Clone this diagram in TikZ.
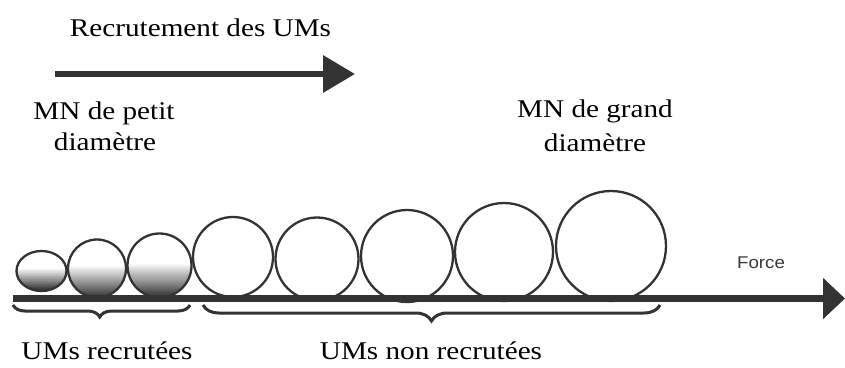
\documentclass[tikz,border=0pt]{standalone}
\usepackage{fontspec}
\setmainfont{Liberation Serif}
\newfontfamily\forcefont{Liberation Sans}
\usetikzlibrary{arrows.meta,shapes.geometric,decorations.pathreplacing,calc}
\definecolor{ink}{HTML}{333333}
\tikzset{
  lbl/.style={anchor=base, inner sep=0pt, xscale=1.145, font=\fontsize{25.5}{30}\selectfont},
  um/.style={circle, draw=ink, line width=2.3pt, inner sep=0pt, minimum size=#1},
  axis/.style={draw=ink, line width=6.5pt},
  bracestyle/.style={draw=ink, line width=3pt, decorate,
      decoration={brace, mirror, amplitude=#1}},
}
% shade lower part of an ellipse: #1 x, #2 y (centre), #3 rx, #4 ry
\newcommand\lowshade[4]{%
  \begin{scope}
    \clip (#1,#2) ellipse [x radius=#3, y radius=#4];
    \foreach \k in {0,...,33}{%
      \pgfmathsetmacro\cc{min(78,\k*2.5)}%
      \fill[black!\cc] (#1-#3, #2-3+\k*#4/30) rectangle (#1+#3, #2-3+\k*#4/30+#4/30+0.6);
    }
  \end{scope}}
\begin{document}
\begin{tikzpicture}[x=1pt,y=-1pt]
\useasboundingbox (0,0) rectangle (845,367);

% title + recruitment arrow
\node[lbl] (title) at (200.5,36.5) {Recrutement des UMs};
\coordinate (ra) at (55,74);
\coordinate (rb) at (355,74);
\draw[axis, -{Triangle[length=32pt,width=36pt]}] (ra) -- (rb);

% upper labels
\node[lbl] (mnp1) at (104,119.5) {MN de petit};
\node[lbl] (mnp2) at (105,150) {diamètre};
\node[lbl] (mng1) at (595,117.5) {MN de grand};
\node[lbl] (mng2) at (595,151) {diamètre};

% shading of recruited units
\lowshade{41.5}{271}{25}{20}
\lowshade{97}{268.5}{29}{29}
\lowshade{159.5}{265.5}{32}{32}

% motor units
\node[ellipse, draw=ink, line width=2.3pt, inner sep=0pt, minimum width=50pt, minimum height=40pt] (u1) at (41.5,271) {};
\node[um=58pt] (u2) at (97,268.5) {};
\node[um=64pt] (u3) at (159.5,265.5) {};
\node[um=80pt] (u4) at (233,257) {};
\node[um=83pt] (u5) at (317,259) {};
\node[um=92pt] (u6) at (407,256) {};
\node[um=98pt] (u7) at (504,252) {};
\node[um=110pt] (u8) at (611,246) {};

% force axis
\coordinate (fa) at (12.5,298.5);
\coordinate (fb) at (845,298.5);
\draw[axis, -{Triangle[length=22pt,width=40pt]}] (fa) -- (fb);
\node[anchor=base, inner sep=0pt, xscale=1.1, text=black!78, font=\forcefont\fontsize{17}{20}\selectfont] (force) at (761,268) {Force};

% braces
\coordinate (b1a) at (13,305);
\coordinate (b1b) at (190,305);
\coordinate (b2a) at (203,305);
\coordinate (b2b) at (660,305);
\draw[bracestyle=12pt, decoration={aspect=0.49}] (b1a) -- (b1b);
\draw[bracestyle=16pt, decoration={aspect=0.5}] (b2a) -- (b2b);

% lower labels
\node[lbl] (rec) at (107,359) {UMs recrutées};
\node[lbl] (nonrec) at (431,359) {UMs non recrutées};
\end{tikzpicture}
\end{document}
